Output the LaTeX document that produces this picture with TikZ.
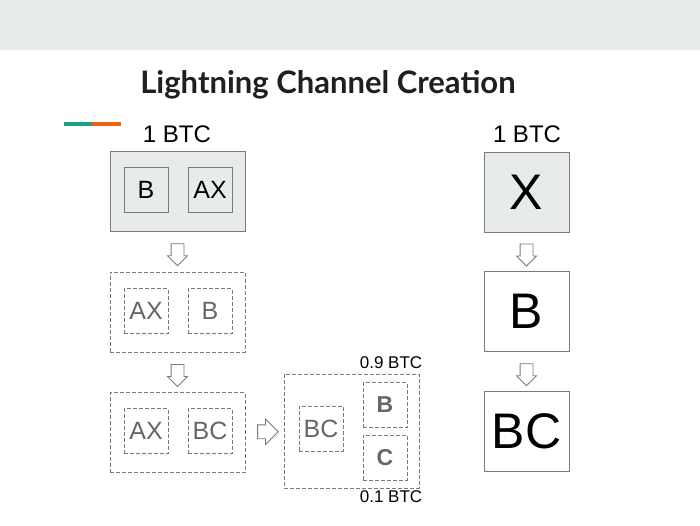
\documentclass[tikz,border=0pt]{standalone}
\usepackage{fontspec}
\setmainfont{Liberation Sans}
\newfontfamily\titlefont{Lato}
\usepackage{xcolor}
\usetikzlibrary{shapes.arrows, positioning}

\definecolor{panel}{HTML}{E8EBEC}
\definecolor{edge}{HTML}{7A7A7A}
\definecolor{ink}{HTML}{666666}
\definecolor{stripeA}{HTML}{1F9E89}
\definecolor{stripeB}{HTML}{F0600C}

\begin{document}
\begin{tikzpicture}[x=1pt, y=-1pt,
    box/.style={draw=edge, line width=1pt, minimum width=135pt, minimum height=80pt, inner sep=0pt},
    dbox/.style={box, dash pattern=on 4pt off 2pt},
    cell/.style={draw=edge, line width=1pt, minimum width=44pt, minimum height=45pt, inner sep=0pt, font=\fontsize{25}{29}\selectfont},
    dcell/.style={cell, dash pattern=on 4pt off 2pt, text=ink},
    bigbox/.style={draw=edge, line width=1pt, minimum width=85pt, minimum height=80pt, inner sep=0pt, font=\fontsize{50}{54}\selectfont},
    darrow/.style={single arrow, draw=edge, fill=white, line width=0.8pt, shape border rotate=270,
        minimum height=22pt, minimum width=19pt, single arrow head extend=3.5pt, inner sep=6pt},
    rarrow/.style={darrow, shape border rotate=0, minimum height=18pt, minimum width=25pt,
        single arrow head extend=6pt, inner sep=6.5pt},
    btc/.style={font=\fontsize{24}{28}\selectfont},
    sbtc/.style={font=\fontsize{17}{20}\selectfont}]
    \useasboundingbox (0,0) rectangle (700,525);
    \fill[panel] (0,0) rectangle (700,50);
    \node[anchor=base, font=\titlefont\bfseries\fontsize{31}{35}\selectfont, text=black!88] (title) at (328,93) {Lightning Channel Creation};
    \draw[stripeA, line width=4pt] (64,124) -- (92,124);
    \draw[stripeB, line width=4pt] (92,124) -- (121,124);

    % left column
    \node[btc] (lbtc) at (177,134) {1 BTC};
    \node[box, fill=panel] (l1) at (177.5,191) {};
    \node[cell] (l1b) at (146,190) {B};
    \node[cell] (l1ax) at (210,190) {AX};
    \node[dbox] (l2) at (177.5,312) {};
    \node[dcell] (l2ax) at (146,311) {AX};
    \node[dcell] (l2b) at (210,311) {B};
    \node[dbox] (l3) at (177.5,432.5) {};
    \node[dcell] (l3ax) at (146,431) {AX};
    \node[dcell] (l3bc) at (210,431) {BC};
    \path (l1.south) -- node[darrow] {} (l2.north);
    \path (l2.south) -- node[darrow] {} (l3.north);

    % split channel
    \node[dbox, minimum height=114pt] (m) at (351.5,431) {};
    \node[dcell] (mbc) at (321,428.5) {BC};
    \node[dcell, font=\bfseries\fontsize{23}{27}\selectfont] (mb) at (385,405) {B};
    \node[dcell, font=\bfseries\fontsize{23}{27}\selectfont] (mc) at (385,457.5) {C};
    \node[sbtc] (mtop) at (391,363) {0.9 BTC};
    \node[sbtc] (mbot) at (391,497) {0.1 BTC};
    \path (l3.east) -- node[rarrow] {} (m.west);

    % right column
    \node[btc] (rbtc) at (527,134) {1 BTC};
    \node[bigbox, fill=panel] (r1) at (526.5,192) {X};
    \node[bigbox] (r2) at (526.5,311.5) {B};
    \node[bigbox] (r3) at (526.5,431.5) {BC};
    \path (r1.south) -- node[darrow] {} (r2.north);
    \path (r2.south) -- node[darrow] {} (r3.north);
\end{tikzpicture}
\end{document}
